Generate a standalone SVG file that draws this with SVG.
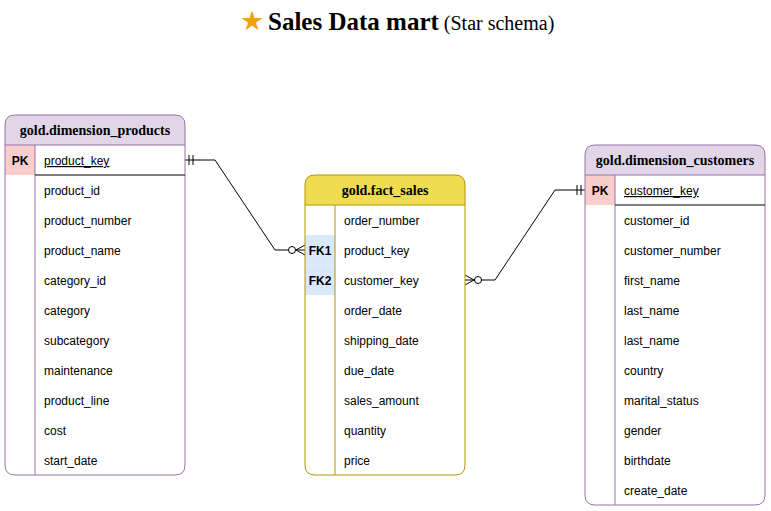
<svg xmlns="http://www.w3.org/2000/svg" width="771" height="511" viewBox="0 0 771 511">
<style>
.hdr{font-family:"Liberation Serif",serif;font-weight:bold;font-size:14px;text-anchor:middle;fill:#000}
.row{font-family:"Liberation Sans",Arial,sans-serif;font-size:12px;fill:#000}
.key{font-family:"Liberation Sans",Arial,sans-serif;font-size:12px;font-weight:bold;text-anchor:middle;fill:#000}
.ln{fill:none;stroke:#000;stroke-width:1}
</style>
<rect width="771" height="511" fill="#fff"/>
<text x="240" y="30" font-family="Liberation Serif,serif"><tspan fill="#f0a30a" font-size="27">★</tspan><tspan font-weight="bold" font-size="25" dx="4">Sales Data mart</tspan><tspan font-size="20"> (Star schema)</tspan></text>

<g id="connectors">
<path class="ln" d="M185,160 H215 L275,250 H305"/>
<path class="ln" d="M189,155 V165 M193,155 V165"/>
<circle cx="292" cy="250" r="3.5" fill="#fff" stroke="#000"/>
<path class="ln" d="M305,245 L296,250 L305,255"/>
<path class="ln" d="M465,280 H495 L555,190 H585"/>
<path class="ln" d="M577,185 V195 M581,185 V195"/>
<circle cx="478" cy="280" r="3.5" fill="#fff" stroke="#000"/>
<path class="ln" d="M465,275 L474,280 L465,285"/>
</g>

<g id="dimension_products">
<path d="M5,145 V125 Q5,115 15,115 H175 Q185,115 185,125 V145 Z" fill="#e1d5e7"/>
<rect x="5" y="145" width="30" height="30" fill="#f8cecc"/>
<path d="M5,145 V125 Q5,115 15,115 H175 Q185,115 185,125 V465 Q185,475 175,475 H15 Q5,475 5,465 Z" fill="none" stroke="#9673a6"/>
<line x1="5" y1="145" x2="185" y2="145" stroke="#9673a6"/>
<line x1="35" y1="145" x2="35" y2="475" stroke="#9673a6"/>
<line x1="35" y1="175" x2="185" y2="175" stroke="#000"/>
<text class="hdr" x="95" y="135">gold.dimension_products</text>
<text class="key" x="20" y="165">PK</text>
<text class="row" x="44" y="165" text-decoration="underline">product_key</text>
<text class="row" x="44" y="195">product_id</text>
<text class="row" x="44" y="225">product_number</text>
<text class="row" x="44" y="255">product_name</text>
<text class="row" x="44" y="285">category_id</text>
<text class="row" x="44" y="315">category</text>
<text class="row" x="44" y="345">subcategory</text>
<text class="row" x="44" y="375">maintenance</text>
<text class="row" x="44" y="405">product_line</text>
<text class="row" x="44" y="435">cost</text>
<text class="row" x="44" y="465">start_date</text>
</g>

<g id="fact_sales">
<path d="M305,205 V185 Q305,175 315,175 H455 Q465,175 465,185 V205 Z" fill="#f0dc50"/>
<rect x="305" y="235" width="30" height="60" fill="#dae8fc"/>
<line x1="305" y1="265" x2="335" y2="265" stroke="#e6eef8"/>
<path d="M305,205 V185 Q305,175 315,175 H455 Q465,175 465,185 V465 Q465,475 455,475 H315 Q305,475 305,465 Z" fill="none" stroke="#b09500"/>
<line x1="305" y1="205" x2="465" y2="205" stroke="#b09500"/>
<line x1="335" y1="205" x2="335" y2="475" stroke="#b09500"/>
<text class="hdr" x="385" y="195">gold.fact_sales</text>
<text class="key" x="320" y="255">FK1</text>
<text class="key" x="320" y="285">FK2</text>
<text class="row" x="344" y="225">order_number</text>
<text class="row" x="344" y="255">product_key</text>
<text class="row" x="344" y="285">customer_key</text>
<text class="row" x="344" y="315">order_date</text>
<text class="row" x="344" y="345">shipping_date</text>
<text class="row" x="344" y="375">due_date</text>
<text class="row" x="344" y="405">sales_amount</text>
<text class="row" x="344" y="435">quantity</text>
<text class="row" x="344" y="465">price</text>
</g>

<g id="dimension_customers">
<path d="M585,175 V155 Q585,145 595,145 H755 Q765,145 765,155 V175 Z" fill="#e1d5e7"/>
<rect x="585" y="175" width="30" height="30" fill="#f8cecc"/>
<path d="M585,175 V155 Q585,145 595,145 H755 Q765,145 765,155 V495 Q765,505 755,505 H595 Q585,505 585,495 Z" fill="none" stroke="#9673a6"/>
<line x1="585" y1="175" x2="765" y2="175" stroke="#9673a6"/>
<line x1="615" y1="175" x2="615" y2="505" stroke="#9673a6"/>
<line x1="615" y1="205" x2="765" y2="205" stroke="#000"/>
<text class="hdr" x="675" y="165">gold.dimension_customers</text>
<text class="key" x="600" y="195">PK</text>
<text class="row" x="624" y="195" text-decoration="underline">customer_key</text>
<text class="row" x="624" y="225">customer_id</text>
<text class="row" x="624" y="255">customer_number</text>
<text class="row" x="624" y="285">first_name</text>
<text class="row" x="624" y="315">last_name</text>
<text class="row" x="624" y="345">last_name</text>
<text class="row" x="624" y="375">country</text>
<text class="row" x="624" y="405">marital_status</text>
<text class="row" x="624" y="435">gender</text>
<text class="row" x="624" y="465">birthdate</text>
<text class="row" x="624" y="495">create_date</text>
</g>
</svg>
